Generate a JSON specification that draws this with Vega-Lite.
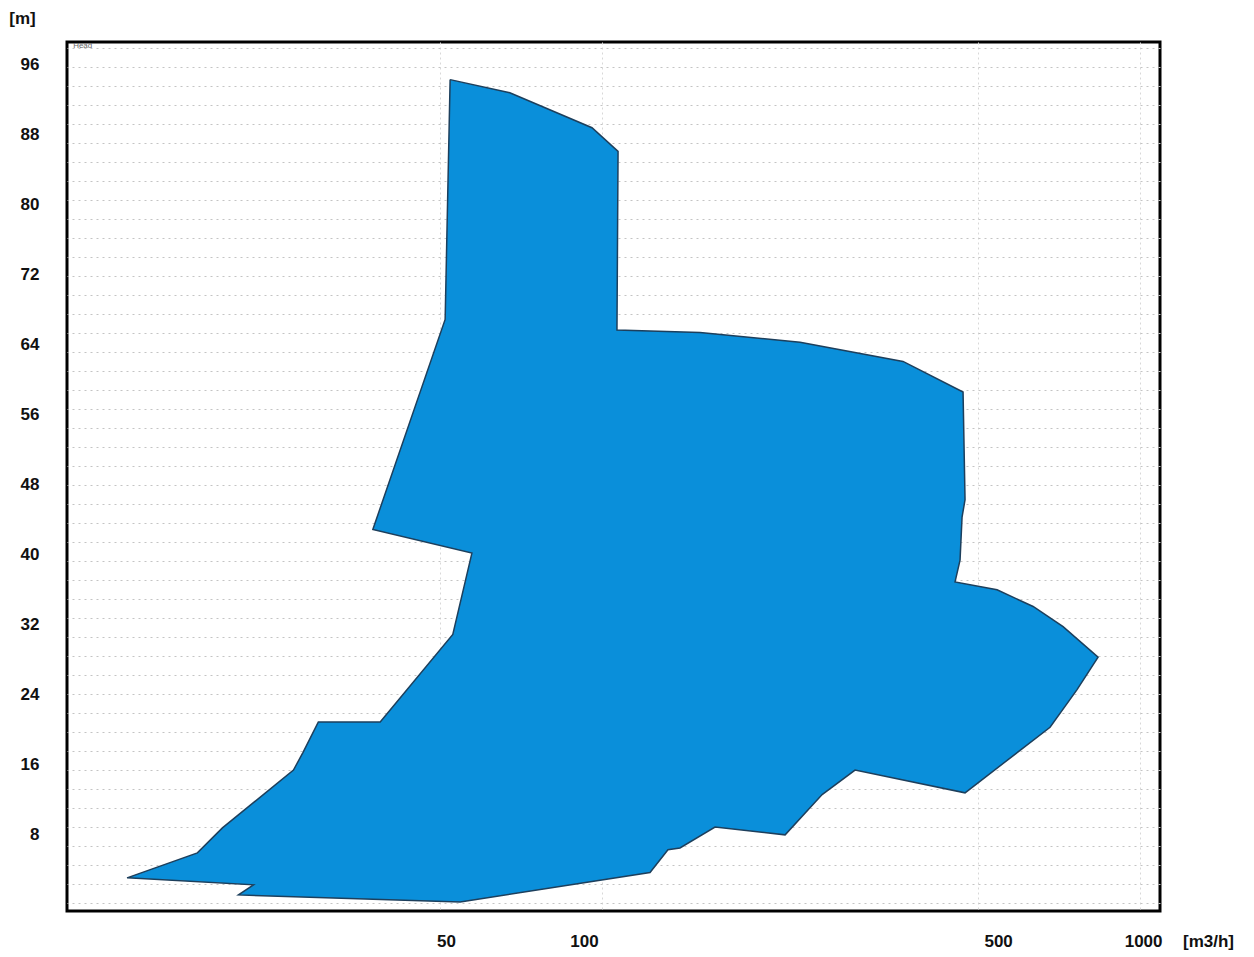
{
  "$schema": "https://vega.github.io/schema/vega-lite/v6.json",
  "width": 1093,
  "height": 869,
  "autosize": "none",
  "padding": {"left": 67, "top": 42, "right": 94, "bottom": 46},
  "background": "white",
  "config": {
    "view": {"stroke": "black", "strokeWidth": 3},
    "font": "Liberation Sans",
    "axis": {"labelFont": "Liberation Sans", "titleFont": "Liberation Sans"}
  },
  "datasets": {
    "envelope": [
      {"i": 1, "q": 52.2, "h": 94.3},
      {"i": 2, "q": 67.4, "h": 92.8},
      {"i": 3, "q": 95.8, "h": 88.8},
      {"i": 4, "q": 107.1, "h": 86.1},
      {"i": 5, "q": 106.6, "h": 65.7},
      {"i": 6, "q": 152.1, "h": 65.4},
      {"i": 7, "q": 233.4, "h": 64.3},
      {"i": 8, "q": 362.6, "h": 62.1},
      {"i": 9, "q": 468.8, "h": 58.6},
      {"i": 10, "q": 472.8, "h": 46.3},
      {"i": 11, "q": 466.8, "h": 44.3},
      {"i": 12, "q": 462.8, "h": 39.4},
      {"i": 13, "q": 453.0, "h": 36.9},
      {"i": 14, "q": 542.3, "h": 36.0},
      {"i": 15, "q": 632.7, "h": 34.1},
      {"i": 16, "q": 719.3, "h": 31.8},
      {"i": 17, "q": 835.5, "h": 28.3},
      {"i": 18, "q": 763.6, "h": 24.6},
      {"i": 19, "q": 680.3, "h": 20.3},
      {"i": 20, "q": 472.8, "h": 12.8},
      {"i": 21, "q": 295.3, "h": 15.4},
      {"i": 22, "q": 256.5, "h": 12.6},
      {"i": 23, "q": 218.9, "h": 8.0},
      {"i": 24, "q": 162.2, "h": 8.9},
      {"i": 25, "q": 139.6, "h": 6.5},
      {"i": 26, "q": 132.6, "h": 6.3},
      {"i": 27, "q": 122.8, "h": 3.7},
      {"i": 28, "q": 54.5, "h": 0.34},
      {"i": 29, "q": 21.1, "h": 1.14},
      {"i": 30, "q": 22.5, "h": 2.29},
      {"i": 31, "q": 13.1, "h": 3.09},
      {"i": 32, "q": 17.7, "h": 5.94},
      {"i": 33, "q": 19.7, "h": 8.8},
      {"i": 34, "q": 26.7, "h": 15.4},
      {"i": 35, "q": 27.8, "h": 17.4},
      {"i": 36, "q": 29.7, "h": 20.9},
      {"i": 37, "q": 38.7, "h": 20.9},
      {"i": 38, "q": 52.8, "h": 30.9},
      {"i": 39, "q": 57.3, "h": 40.2},
      {"i": 40, "q": 37.5, "h": 42.9},
      {"i": 41, "q": 51.1, "h": 66.9},
      {"i": 42, "q": 52.2, "h": 94.3}
    ],
    "note": [
      {"label": "Head", "q": 10.4, "h": 98.1}
    ]
  },
  "layer": [
    {
      "data": {"name": "envelope"},
      "mark": {"type": "line", "fill": "#0a8fda", "stroke": "#1d3f5c", "strokeWidth": 1.5, "strokeJoin": "miter"},
      "encoding": {
        "x": {
          "field": "q", "type": "quantitative",
          "scale": {"type": "log", "domain": [10.13, 1089], "nice": false},
          "axis": {
            "values": [50, 100, 500, 1000],
            "format": "d",
            "title": "[m3/h]",
            "titleX": 1141, "titleY": 30, "titleAlign": "center", "titleBaseline": "middle",
            "titleFontSize": 17, "titleFontWeight": "bold", "titleColor": "#111",
            "labelFontSize": 17, "labelFontWeight": "bold", "labelColor": "#111",
            "labelPadding": 30, "labelBaseline": "middle",
            "labelOffset": {
              "condition": [
                {"test": "datum.value == 50", "value": 6},
                {"test": "datum.value == 100", "value": -18},
                {"test": "datum.value == 500", "value": 20}
              ],
              "value": 3
            },
            "ticks": false, "domain": false,
            "grid": true, "gridColor": "#d8d8d8", "gridDash": [2, 3], "gridWidth": 1
          }
        },
        "y": {
          "field": "h", "type": "quantitative",
          "scale": {"domain": [-0.7, 98.6], "nice": false, "zero": false},
          "axis": {
            "values": [8, 16, 24, 32, 40, 48, 56, 64, 72, 80, 88, 96],
            "title": "[m]",
            "titleAngle": 0, "titleX": -45, "titleY": -24, "titleAlign": "center", "titleBaseline": "middle",
            "titleFontSize": 17, "titleFontWeight": "bold", "titleColor": "#111",
            "labelFontSize": 17, "labelFontWeight": "bold", "labelColor": "#111",
            "labelPadding": 28, "labelAlign": "right", "labelBaseline": "middle",
            "ticks": false, "domain": false, "grid": false
          }
        },
        "order": {"field": "i", "type": "quantitative"}
      }
    },
    {
      "data": {"name": "note"},
      "mark": {"type": "text", "align": "left", "baseline": "middle", "fontSize": 8, "color": "#666"},
      "encoding": {
        "x": {"field": "q", "type": "quantitative"},
        "y": {
          "field": "h", "type": "quantitative",
          "axis": {
            "orient": "right",
            "values": [97.94, 95.77, 93.6, 91.43, 89.25, 87.08, 84.91, 82.74, 80.57, 78.4, 76.23, 74.05, 71.88, 69.71, 67.54, 65.37, 63.2, 61.03, 58.85, 56.68, 54.51, 52.34, 50.17, 48.0, 45.83, 43.65, 41.48, 39.31, 37.14, 34.97, 32.8, 30.63, 28.45, 26.28, 24.11, 21.94, 19.77, 17.6, 15.43, 13.25, 11.08, 8.91, 6.74, 4.57, 2.4, 0.23],
            "title": null, "labels": false, "ticks": false, "domain": false,
            "grid": true, "gridColor": "#c4c4c4", "gridDash": [2, 4], "gridWidth": 1
          }
        },
        "text": {"field": "label"}
      }
    }
  ],
  "resolve": {"axis": {"y": "independent"}}
}
